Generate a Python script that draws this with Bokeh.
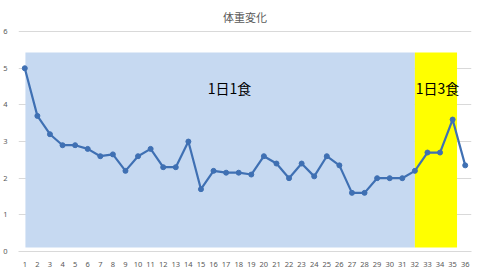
from bokeh.plotting import figure
from bokeh.models import Range1d, FixedTicker, Label, ColumnDataSource
from bokeh.embed import file_html
from bokeh.resources import INLINE

days = list(range(1, 37))
weight = [5.0, 3.7, 3.2, 2.9, 2.9, 2.8, 2.6, 2.65, 2.2, 2.6,
          2.8, 2.3, 2.3, 3.0, 1.7, 2.2, 2.15, 2.15, 2.1, 2.6,
          2.4, 2.0, 2.4, 2.05, 2.6, 2.35, 1.6, 1.6, 2.0, 2.0,
          2.0, 2.2, 2.7, 2.7, 3.6, 2.35]
y_ticks = [0, 1, 2, 3, 4, 5, 6]
title_text = "体重変化"
phase_labels = ["1日1食", "1日3食"]
phase_left = [1.05, 32.0]
phase_right = [32.0, 35.35]
phase_colors = ["#C6D9F1", "#FFFF00"]

p = figure(width=480, height=271, output_backend="svg", toolbar_location=None,
           x_range=Range1d(0.5, 36.5), y_range=Range1d(0, 6.03),
           min_border_left=16, min_border_right=9, min_border_top=30, min_border_bottom=20,
           title=title_text)
p.title.align = "center"
p.title.offset = -4
p.title.text_font = "Noto Sans CJK JP"
p.title.text_font_size = "11px"
p.title.text_font_style = "normal"
p.title.text_color = "#595959"
p.title.standoff = 12
p.outline_line_color = None
p.background_fill_color = "white"
p.border_fill_color = "white"

# shaded phases
p.quad(left=phase_left, right=phase_right, bottom=[0.11, 0.11], top=[5.43, 5.43],
       fill_color=phase_colors, line_color=None)

src = ColumnDataSource(dict(x=days, y=weight))
p.line("x", "y", source=src, line_color="#3F70B3", line_width=2.2)
p.scatter("x", "y", source=src, size=5, fill_color="#3F70B3", line_color="#3F70B3")

for txt, xc in zip(phase_labels, [17.27, 33.8]):
    p.add_layout(Label(x=xc, y=4.47, text=txt, text_align="center", text_baseline="middle",
                       text_font="Noto Sans CJK JP", text_font_size="14px",
                       text_color="black"))

p.xaxis.ticker = FixedTicker(ticks=days)
p.yaxis.ticker = FixedTicker(ticks=y_ticks)
for ax in (p.xaxis, p.yaxis):
    ax.major_tick_line_color = None
    ax.minor_tick_line_color = None
    ax.major_label_text_font = "Noto Sans"
    ax.major_label_text_font_size = "7.5px"
    ax.major_label_text_color = "#595959"
p.xaxis.axis_line_color = "#D9D9D9"
p.yaxis.axis_line_color = None
p.xaxis.major_label_standoff = 4
p.yaxis.major_label_standoff = 5
p.xgrid.grid_line_color = None
p.ygrid.grid_line_color = "#D9D9D9"

open("out.html", "w").write(file_html(p, INLINE))
